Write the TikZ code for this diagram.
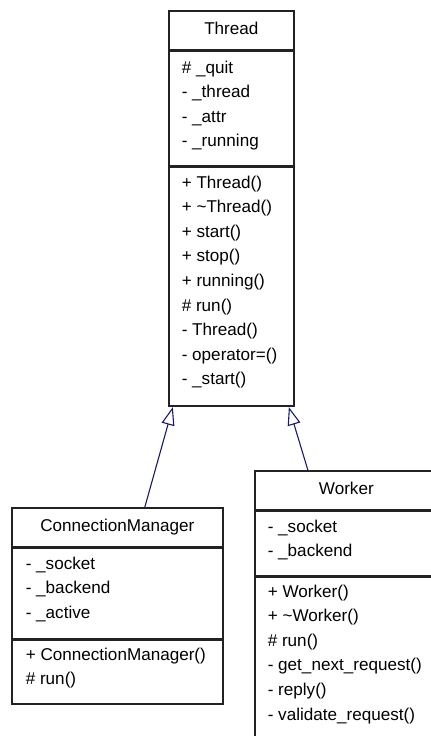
\documentclass[tikz,border=0pt]{standalone}
\usepackage{fontspec}
\setmainfont{Liberation Sans}
\usetikzlibrary{arrows.meta}
\definecolor{edge}{HTML}{191970}
\definecolor{frame}{HTML}{222222}

\begin{document}
\begin{tikzpicture}[x=0.5pt, y=-0.5pt, thick,
    box/.style={draw=frame, line width=0.85pt, anchor=north west, inner sep=0pt,
        text height=6pt, text depth=1.6pt, font=\fontsize{8.55}{10}\selectfont},
    member/.style={anchor=base west, inner sep=0pt, font=\fontsize{8.55}{10}\selectfont},
    inherit/.style={edge, line width=0.55pt, -{Triangle[open, length=9pt, width=6.5pt]}}]

\clip (0,0) rectangle (431,736);

\node[box, minimum width=62.5pt, minimum height=19.5pt] (thread) at (168,10) {Thread};
\node[box, minimum width=62.5pt, minimum height=57pt] (thread-attr) at (thread.south west) {};
\node[box, minimum width=62.5pt, minimum height=119.5pt] (thread-ops) at (thread-attr.south west) {};

\foreach \m [count=\i] in {\# \_quit, - \_thread, - \_attr, - \_running}
    \node[member] (thread-a\i) at (181, {73+24.6*(\i-1)}) {\m};
\foreach \m [count=\i] in {+ Thread(), + \textasciitilde Thread(), + start(), + stop(), + running(),
        \# run(), - Thread(), - operator=(), - \_start()}
    \node[member] (thread-o\i) at (181, {188+24.6*(\i-1)}) {\m};

\node[box, minimum width=105.5pt, minimum height=19.5pt] (cm) at (11,507) {ConnectionManager};
\node[box, minimum width=105.5pt, minimum height=45pt] (cm-attr) at (cm.south west) {};
\node[box, minimum width=105.5pt, minimum height=32pt] (cm-ops) at (cm-attr.south west) {};

\foreach \m [count=\i] in {- \_socket, - \_backend, - \_active}
    \node[member] (cm-a\i) at (25, {569+24.6*(\i-1)}) {\m};
\foreach \m [count=\i] in {+ ConnectionManager(), \# run()}
    \node[member] (cm-o\i) at (25, {660+24.6*(\i-1)}) {\m};

\node[box, minimum width=91.5pt, minimum height=19.5pt] (worker) at (254,470) {Worker};
\node[box, minimum width=91.5pt, minimum height=32pt] (worker-attr) at (worker.south west) {};
\node[box, minimum width=91.5pt, minimum height=95pt] (worker-ops) at (worker-attr.south west) {};

\foreach \m [count=\i] in {- \_socket, - \_backend}
    \node[member] (worker-a\i) at (267, {532+24.6*(\i-1)}) {\m};
\foreach \m [count=\i] in {+ Worker(), + \textasciitilde Worker(), \# run(), - get\_next\_request(),
        - reply(), - validate\_request()}
    \node[member] (worker-o\i) at (267, {597+24.6*(\i-1)}) {\m};

\draw[inherit] ([xshift=13.75pt]cm.north) -- ([xshift=-29.25pt]thread-ops.south);
\draw[inherit] ([xshift=-19.25pt]worker.north) -- ([xshift=28.75pt]thread-ops.south);

\end{tikzpicture}
\end{document}
